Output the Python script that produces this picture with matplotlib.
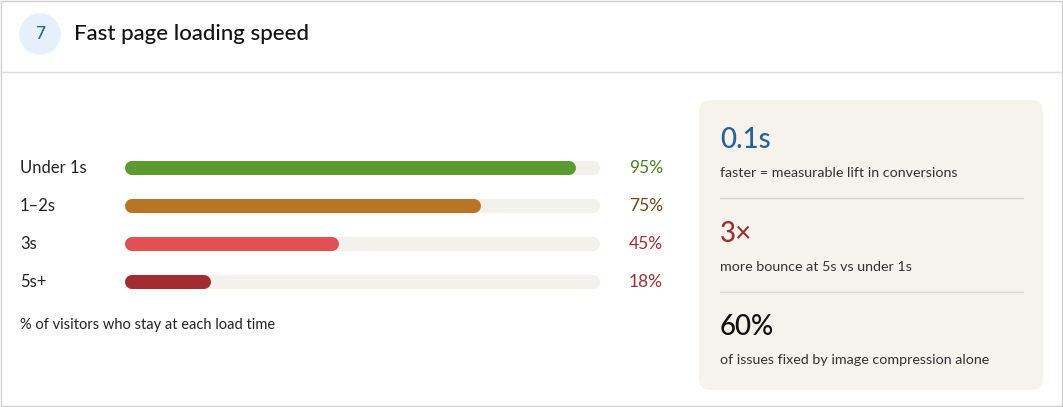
import matplotlib.pyplot as plt
from matplotlib.patches import FancyBboxPatch, Ellipse, Rectangle

labels = ['Under 1s', '1–2s', '3s', '5s+']
values = [95, 75, 45, 18]
bar_colors = ['#5b9a2f', '#b87524', '#e05052', '#a32c30']
text_colors = ['#4f7d27', '#6e4a1c', '#9c2f30', '#9c2f30']
row_y = [168, 206, 244, 282]

stats = ['0.1s', '3×', '60%']
stat_notes = ['faster = measurable lift in conversions', 'more bounce at 5s vs under 1s',
              'of issues fixed by image compression alone']
stat_colors = ['#2a5f9a', '#9c2f30', '#111111']

plt.rcParams['font.family'] = ['Lato', 'DejaVu Sans']
W, H = 1063, 407
fig = plt.figure(figsize=(W / 100, H / 100), dpi=100)
ax = fig.add_axes([0, 0, 1, 1])
ax.set_xlim(0, W)
ax.set_ylim(H, 0)
ax.axis('off')

ax.add_patch(Rectangle((0.5, 0.5), W - 1.5, H - 1.5, fill=False, ec='#cfcfcf', lw=1))
ax.plot([1, W - 1], [72, 72], color='#dddddd', lw=1)
ax.add_patch(Ellipse((40, 34), 40, 40, color='#e5f0fb'))
ax.text(40, 34, '7', ha='center', va='center', fontsize=12.5, color='#2a5f9a', weight='medium')
ax.text(74, 34, 'Fast page loading speed', ha='left', va='center', fontsize=16,
        color='#111111', weight='medium')

for lab, v, tc, y in zip(labels, values, text_colors, row_y):
    ax.text(20, y, lab, ha='left', va='center', fontsize=12, color='#222222')
    ax.text(663, y, f'{v}%', ha='right', va='center', fontsize=12.5, color=tc)
ax.text(20, 325, '% of visitors who stay at each load time', ha='left', va='center',
        fontsize=10.5, color='#222222')

# bars in percent scale
bx = fig.add_axes([125 / W, 0, 475 / W, 1])
bx.set_xlim(0, 100)
bx.set_ylim(H, 0)
bx.axis('off')
r = 7 / 475 * 100
for v, c, y in zip(values, bar_colors, row_y):
    bx.plot([r, 100 - r], [y, y], color='#f3f1ec', lw=10.1, solid_capstyle='round')
    bx.plot([r, v - r], [y, y], color=c, lw=10.1, solid_capstyle='round')

# right panel
ax.add_patch(FancyBboxPatch((699, 100), 344, 290, boxstyle='round,pad=0,rounding_size=12',
                            fc='#f5f3ec', ec='none'))
big_y = [140, 234, 327]
for s, n, c, y in zip(stats, stat_notes, stat_colors, big_y):
    ax.text(720, y, s, ha='left', va='center', fontsize=20, color=c, weight='medium')
    ax.text(720, y + 33, n, ha='left', va='center', fontsize=10.3, color='#333333')
for y in [198, 292]:
    ax.plot([720, 1023], [y, y], color='#d8d5cc', lw=1)

fig.savefig('out.png', dpi=100)
